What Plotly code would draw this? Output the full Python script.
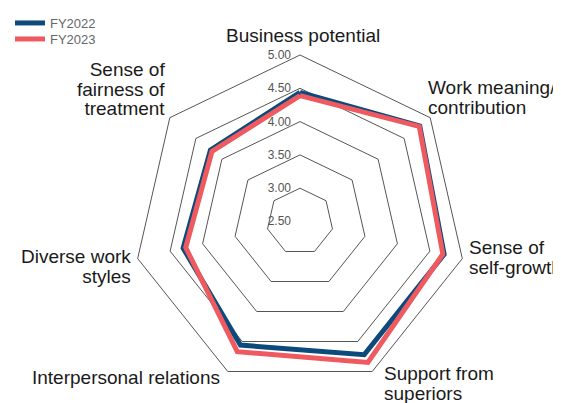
import math
import plotly.graph_objects as go

categories = [
    "Business potential",
    "Work meaning/<br>contribution",
    "Sense of<br>self-growth",
    "Support from<br>superiors",
    "Interpersonal relations",
    "Diverse work<br>styles",
    "Sense of<br>fairness of<br>treatment",
]
fy2022 = [4.44, 4.80, 4.72, 4.72, 4.56, 4.30, 4.22]
fy2023 = [4.39, 4.79, 4.70, 4.85, 4.67, 4.26, 4.19]
tick_vals = [2.5, 3.0, 3.5, 4.0, 4.5, 5.0]
tick_text = ["2.50", "3.00", "3.50", "4.00", "4.50", "5.00"]

series = [("FY2022", fy2022, "#0d4a7c", "legend"),
          ("FY2023", fy2023, "#ee5a5f", "legend2")]

# label placement relative to each outer vertex: (dx, block-centre dy, xanchor)
label_style = [
    (2.5, -19, "center"),
    (-4, -20, "left"),
    (4.5, -1, "left"),
    (9.8, 12, "left"),
    (-5.8, 5.5, "right"),
    (-4.7, 7.8, "right"),
    (-3.1, -29, "right"),
]

W, H = 561, 403
cx, cy, R = 292, 213.5, 166.5
LABEL_PX = 19
LINE_PX = 19.5 / 1.3  # font size giving ~19.5px line pitch

fig = go.Figure()
for name, vals, color, leg in series:
    fig.add_trace(go.Scatterpolar(
        r=vals + vals[:1],
        theta=categories + categories[:1],
        mode="lines",
        name=name,
        legend=leg,
        line=dict(color=color, width=5),
    ))

annotations = []
n = len(categories)
for k, (label, (dx, dy, xa)) in enumerate(zip(categories, label_style)):
    ang = math.radians(90 - k * 360 / n)
    vx = cx + R * math.cos(ang)
    vy = cy - R * math.sin(ang)
    lines = label.split("<br>")
    if len(lines) > 1:
        text = "<br>".join(
            f'<span style="font-size:{LABEL_PX}px">{ln}</span>' for ln in lines)
        fsize = LINE_PX
    else:
        text = label
        fsize = LABEL_PX
    annotations.append(dict(
        x=(vx + dx) / W, y=1 - (vy + dy) / H,
        xref="paper", yref="paper",
        text=text, showarrow=False,
        xanchor=xa, yanchor="middle", align=xa,
        font=dict(size=fsize, color="#1a1a1a"),
    ))

legend_common = dict(xanchor="left", yanchor="top",
                     font=dict(size=13, color="#666"),
                     bgcolor="rgba(0,0,0,0)")

fig.update_layout(
    width=W, height=H,
    margin=dict(l=0, r=0, t=0, b=0),
    paper_bgcolor="white",
    plot_bgcolor="white",
    font=dict(family="Liberation Sans, Arial, sans-serif", color="#222"),
    showlegend=True,
    legend=dict(x=2 / W, y=1.0, **legend_common),
    legend2=dict(x=2 / W, y=1 - 16 / H, **legend_common),
    annotations=annotations,
    polar=dict(
        domain=dict(x=[(cx - R) / W, (cx + R) / W],
                    y=[(H - cy - R) / H, (H - cy + R) / H]),
        gridshape="linear",
        bgcolor="white",
        radialaxis=dict(
            range=[2.5, 5.0],
            tickvals=tick_vals,
            ticktext=[t + "\u00a0\u00a0" for t in tick_text],
            angle=90,
            tickangle=90,
            side="counterclockwise",
            showline=False,
            ticks="",
            gridcolor="#555",
            gridwidth=1,
            tickfont=dict(size=12, color="#555"),
        ),
        angularaxis=dict(
            rotation=90,
            direction="clockwise",
            showgrid=False,
            showline=True,
            linecolor="#555",
            linewidth=1,
            ticks="",
            showticklabels=False,
        ),
    ),
)

fig.write_html("out.html")
